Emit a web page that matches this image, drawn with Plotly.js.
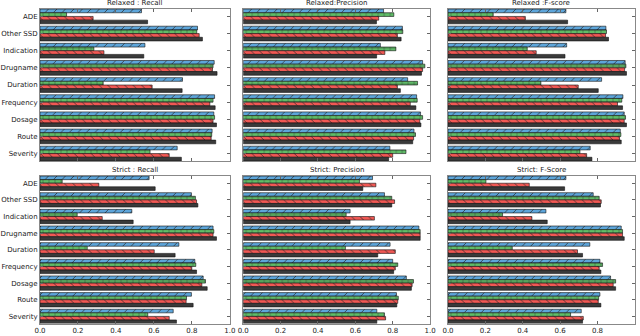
<!DOCTYPE html>
<html>
<head>
<meta charset="utf-8">
<script src="https://cdn.plot.ly/plotly-3.0.1.min.js"></script>
<style>
  html, body { margin: 0; padding: 0; background: #fff; }
  #chart { width: 640px; height: 336px; }
</style>
</head>
<body>
<div id="chart"></div>
<script>
var categories = ["ADE", "Other SSD", "Indication", "Drugname", "Duration",
                  "Frequency", "Dosage", "Route", "Severity"];

// each panel: rows = blue, green, red, black series
var relaxedRecall = [
    [0.535, 0.83, 0.553, 0.918, 0.751, 0.92, 0.916, 0.907, 0.723],
    [0.14, 0.826, 0.284, 0.912, 0.333, 0.912, 0.92, 0.905, 0.58],
    [0.28, 0.839, 0.337, 0.909, 0.591, 0.895, 0.912, 0.902, 0.681],
    [0.567, 0.856, 0.547, 0.933, 0.749, 0.923, 0.93, 0.926, 0.745]
];
var relaxedPrecision = [
    [0.751, 0.852, 0.734, 0.96, 0.88, 0.928, 0.949, 0.914, 0.785],
    [0.806, 0.854, 0.817, 0.972, 0.933, 0.931, 0.96, 0.922, 0.871],
    [0.725, 0.825, 0.758, 0.96, 0.825, 0.894, 0.945, 0.912, 0.8],
    [0.713, 0.845, 0.714, 0.954, 0.841, 0.924, 0.951, 0.907, 0.778]
];
var relaxedFscore = [
    [0.631, 0.845, 0.635, 0.948, 0.822, 0.936, 0.943, 0.922, 0.761],
    [0.242, 0.848, 0.424, 0.952, 0.497, 0.93, 0.95, 0.925, 0.706],
    [0.414, 0.843, 0.472, 0.945, 0.697, 0.907, 0.943, 0.918, 0.742],
    [0.64, 0.859, 0.626, 0.955, 0.804, 0.934, 0.955, 0.927, 0.77]
];
var strictRecall = [
    [0.575, 0.798, 0.484, 0.912, 0.732, 0.816, 0.86, 0.798, 0.702],
    [0.117, 0.819, 0.196, 0.916, 0.249, 0.821, 0.872, 0.772, 0.568],
    [0.31, 0.825, 0.328, 0.912, 0.602, 0.8, 0.853, 0.77, 0.681],
    [0.607, 0.832, 0.491, 0.93, 0.712, 0.825, 0.881, 0.807, 0.719]
];
var strictPrecision = [
    [0.692, 0.756, 0.572, 0.94, 0.786, 0.8, 0.873, 0.82, 0.715],
    [0.622, 0.795, 0.551, 0.947, 0.547, 0.827, 0.911, 0.83, 0.756],
    [0.71, 0.81, 0.702, 0.947, 0.814, 0.814, 0.904, 0.827, 0.762],
    [0.64, 0.795, 0.572, 0.947, 0.72, 0.805, 0.9, 0.822, 0.715]
];
var strictFscore = [
    [0.631, 0.777, 0.524, 0.927, 0.759, 0.813, 0.87, 0.813, 0.713],
    [0.203, 0.809, 0.292, 0.934, 0.344, 0.827, 0.897, 0.806, 0.656],
    [0.435, 0.82, 0.449, 0.934, 0.693, 0.809, 0.884, 0.804, 0.724],
    [0.624, 0.816, 0.531, 0.943, 0.72, 0.818, 0.897, 0.818, 0.72]
];

var panels = [relaxedRecall, relaxedPrecision, relaxedFscore,
              strictRecall, strictPrecision, strictFscore];
var titles = ["Relaxed : Recall", "Relaxed:Precision", "Relaxed :F-score",
              "Strict : Recall", "Strict: Precision", "Strict: F-Score"];

var colors = ["#5DA5DA", "#60BD68", "#F15854", "#3a3a3a"];
var hatches = ["/", "+", "\\", ""];

var xDomains = [[0.0625, 0.359], [0.38, 0.672], [0.7, 0.992]];
var yDomains = [[0.521, 0.973], [0.037, 0.476]];

var data = [];
var layout = {
    width: 640, height: 336,
    margin: { l: 0, r: 0, t: 0, b: 0 },
    paper_bgcolor: "#fff",
    plot_bgcolor: "#fff",
    barmode: "group",
    bargap: 0.14,
    bargroupgap: 0,
    showlegend: false,
    font: { family: "DejaVu Sans, sans-serif", size: 7, color: "#222" },
    annotations: []
};

panels.forEach(function (panel, p) {
    var row = Math.floor(p / 3), col = p % 3;
    var n = p === 0 ? "" : String(p + 1);
    panel.forEach(function (vals, s) {
        var marker = {
            color: colors[s],
            line: { color: "#111", width: 0.6 }
        };
        if (hatches[s]) {
            marker.pattern = { shape: hatches[s], fgcolor: "#2a2a2a", bgcolor: colors[s],
                               fillmode: "replace", size: 6, solidity: 0.12 };
        }
        data.push({
            type: "bar",
            orientation: "h",
            x: vals,
            y: categories,
            xaxis: "x" + n,
            yaxis: "y" + n,
            marker: marker
        });
    });
    layout["xaxis" + n] = {
        domain: xDomains[col],
        anchor: "y" + n,
        range: [0, 1],
        tickvals: [0, 0.2, 0.4, 0.6, 0.8, 1.0],
        tickformat: ".1f",
        showticklabels: row === 1,
        ticks: "inside", ticklen: 3, tickcolor: "#666",
        showline: true, mirror: "ticks", linecolor: "#888", linewidth: 1,
        showgrid: false, zeroline: false,
        ticklabelstandoff: 0,
        tickfont: { size: 7, color: "#222" }
    };
    layout["yaxis" + n] = {
        domain: yDomains[row],
        anchor: "x" + n,
        type: "category",
        categoryorder: "array",
        categoryarray: categories,
        range: [8.43, -0.43],
        showticklabels: col === 0,
        ticks: "inside", ticklen: 3, tickcolor: "#666",
        showline: true, mirror: "ticks", linecolor: "#888", linewidth: 1,
        showgrid: false, zeroline: false,
        ticklabelstandoff: 0,
        tickfont: { size: 7, color: "#222" }
    };
    layout.annotations.push({
        text: titles[p],
        xref: "paper", yref: "paper",
        x: (xDomains[col][0] + xDomains[col][1]) / 2,
        y: yDomains[row][1],
        xanchor: "center", yanchor: "bottom",
        showarrow: false,
        font: { size: 7, color: "#222" }
    });
});

var config = { responsive: false, displayModeBar: false, staticPlot: true };
Plotly.newPlot("chart", data, layout, config);
</script>
</body>
</html>
